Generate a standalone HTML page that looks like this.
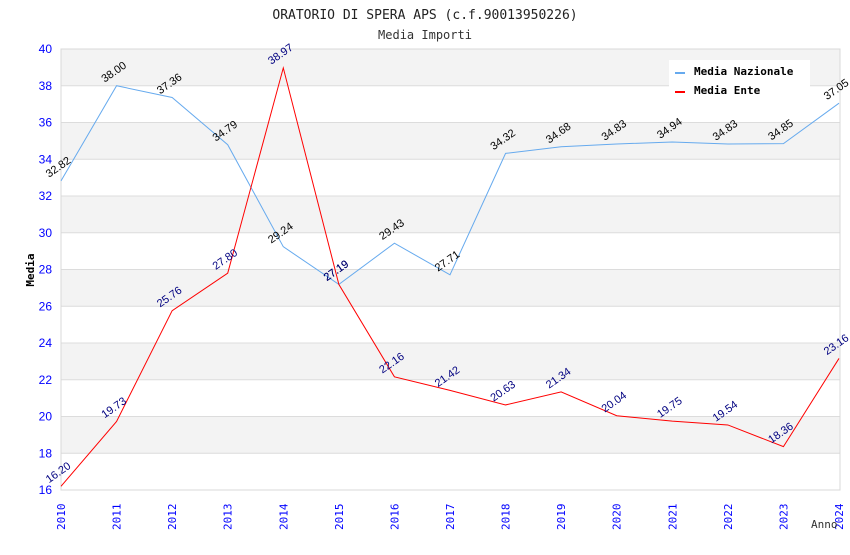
<!DOCTYPE html>
<html><head><meta charset="utf-8"><style>
body{margin:0;background:#fff;}
svg text{font-family:"DejaVu Sans Mono","Liberation Mono",monospace;}
svg text.s{font-family:"Liberation Sans",sans-serif;}
</style></head><body>
<svg id="chart" width="850" height="550" xmlns="http://www.w3.org/2000/svg"></svg>
<script>
const years=[2010,2011,2012,2013,2014,2015,2016,2017,2018,2019,2020,2021,2022,2023,2024];
const nazionale=[32.82,38.00,37.36,34.79,29.24,27.19,29.43,27.71,34.32,34.68,34.83,34.94,34.83,34.85,37.05];
const ente=[16.20,19.73,25.76,27.80,38.97,27.19,22.16,21.42,20.63,21.34,20.04,19.75,19.54,18.36,23.16];
const yTicks=[16,18,20,22,24,26,28,30,32,34,36,38,40];
const svg=document.getElementById('chart');
const NS='http://www.w3.org/2000/svg';
const L=61,R=839,T=49,B=490,yMin=16,yMax=40;
const x=i=>L+(R-L)*i/(years.length-1);
const y=v=>B-(B-T)*(v-yMin)/(yMax-yMin);
function mk(tag,attrs,parent){const e=document.createElementNS(NS,tag);for(const k in attrs)e.setAttribute(k,attrs[k]);(parent||svg).appendChild(e);return e;}
for(let i=0;i<yTicks.length-1;i++){
  if(i%2===1){const r=mk('rect',{x:L,y:y(yTicks[i+1]),width:R-L+1,height:y(yTicks[i])-y(yTicks[i+1]),fill:'#f3f3f3'});
  }
}
yTicks.forEach(t=>{
  const l=mk('line',{x1:L,x2:R+1,y1:y(t),y2:y(t),stroke:'#dcdcdc','stroke-width':1});
  
  const tx=mk('text',{class:'s',x:52,y:y(t)+4,'text-anchor':'end','font-size':12,fill:'#0000ff'});tx.textContent=t;
  
});
const fr=mk('rect',{x:L,y:T,width:R-L+1,height:B-T,fill:'none',stroke:'#d8d8d8'});

years.forEach((yr,i)=>{
  const tx=mk('text',{transform:`translate(${x(i)+4},${B+40}) rotate(-90)`,'font-size':11,fill:'#0000ff'});tx.textContent=yr;
  
});
function series(vals,color,labColor,name){
  const p=mk('polyline',{points:vals.map((v,i)=>x(i)+','+y(v)).join(' '),fill:'none',stroke:color,'stroke-width':1});
  
  vals.forEach((v,i)=>{
    const tx=mk('text',{class:'s',transform:`translate(${x(i)-12},${y(v)-3}) rotate(-35)`,'font-size':11,fill:labColor});tx.textContent=v.toFixed(2);
    
  });
}
series(nazionale,'#66aaee','#000','nazionale');
series(ente,'#ff0000','#000080','ente');
const t1=mk('text',{x:425,y:19,'text-anchor':'middle','font-size':13,fill:'#222'});t1.textContent='ORATORIO DI SPERA APS (c.f.90013950226)';

const t2=mk('text',{x:425,y:39,'text-anchor':'middle','font-size':12,fill:'#333'});t2.textContent='Media Importi';

const yt=mk('text',{transform:'translate(34,270) rotate(-90)','text-anchor':'middle','font-size':11,'font-weight':'bold',fill:'#000'});yt.textContent='Media';

const xt=mk('text',{x:811,y:528,'font-size':11,fill:'#333'});xt.textContent='Anno';

const lg=mk('g',{});
mk('rect',{x:669,y:60,width:141,height:40,fill:'#fff'},lg);
[['Media Nazionale','#66aaee',72],['Media Ente','#ff0000',91]].forEach(([n,c,yy])=>{
  const g=mk('g',{},lg);
  mk('rect',{x:675,y:yy,width:10,height:2,fill:c},g);
  const t=mk('text',{x:694,y:yy+3,'font-size':11,'font-weight':'bold',fill:'#000'},g);t.textContent=n;
});
</script>
</body></html>
